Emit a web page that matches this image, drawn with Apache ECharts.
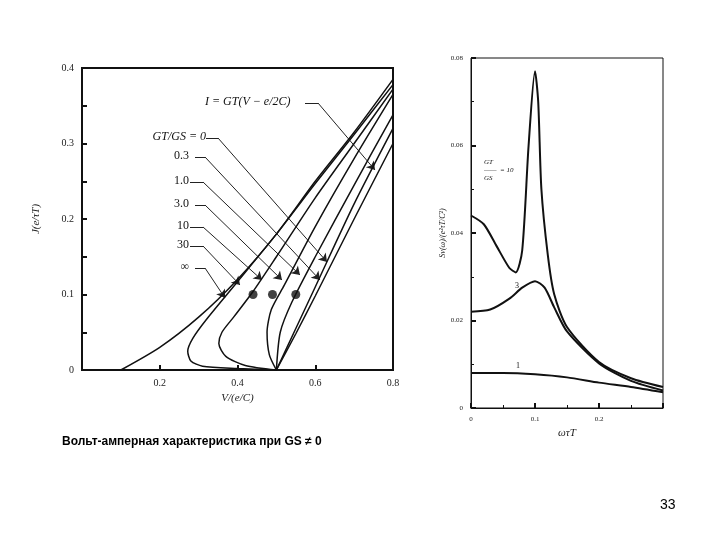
<!DOCTYPE html>
<html><head><meta charset="utf-8">
<script src="https://cdn.jsdelivr.net/npm/echarts@6/dist/echarts.min.js"></script>
<style>html,body{margin:0;background:#fff}#c{width:720px;height:540px}</style>
</head><body><div id="c"></div>
<script>
// left: I-V curves for different GT/GS
const ivInf = [[0.1,0],[0.2,0.03],[0.3,0.07],[0.4,0.12],[0.5,0.18],[0.6,0.25],[0.7,0.315],[0.8,0.385]]
const iv30 = [[0.5,0],[0.4,0.002],[0.31,0.005],[0.28,0.012],[0.272,0.025],[0.285,0.042],[0.32,0.067],[0.4,0.117],[0.5,0.18],[0.6,0.247],[0.7,0.312],[0.8,0.378]]
const iv10 = [[0.5,0],[0.42,0.006],[0.37,0.018],[0.352,0.035],[0.36,0.05],[0.39,0.07],[0.44,0.104],[0.5,0.15],[0.6,0.228],[0.7,0.3],[0.8,0.372]]
const iv3 = [[0.5,0],[0.482,0.02],[0.476,0.05],[0.487,0.08],[0.52,0.112],[0.6,0.19],[0.7,0.28],[0.8,0.365]]
const iv1 = [[0.5,0],[0.51,0.05],[0.54,0.09],[0.6,0.15],[0.7,0.245],[0.8,0.338]]
const iv03 = [[0.5,0],[0.55,0.055],[0.6,0.11],[0.7,0.22],[0.8,0.32]]
const iv0 = [[0.5,0],[0.55,0.048],[0.6,0.098],[0.7,0.2],[0.8,0.3]]
const dots = [[0.44,0.1],[0.49,0.1],[0.55,0.1]]
// right: noise spectra
const sp10 = [[0,0.044],[0.02,0.042],[0.04,0.037],[0.06,0.032],[0.07,0.031],[0.08,0.036],[0.09,0.06],[0.1,0.077],[0.105,0.07],[0.11,0.05],[0.12,0.035],[0.13,0.026],[0.15,0.0185],[0.2,0.0105],[0.25,0.0068],[0.3,0.0048]]
const sp3 = [[0,0.022],[0.03,0.0225],[0.06,0.025],[0.08,0.0275],[0.1,0.029],[0.115,0.0275],[0.13,0.023],[0.15,0.0175],[0.2,0.0102],[0.25,0.0062],[0.3,0.004]]
const sp1 = [[0,0.008],[0.05,0.008],[0.1,0.0077],[0.15,0.007],[0.2,0.0058],[0.25,0.0048],[0.3,0.0036]]

// pixel -> data for left grid (annotation leaders only)
const L = {x0:82, x1:393, y0:370, y1:68}
const p2d = (px, py) => [(px - L.x0) * 0.8 / (L.x1 - L.x0), (L.y0 - py) * 0.4 / (L.y0 - L.y1)]
const leaderPx = [
  [[305,103],[318,103],[375,170]],
  [[206,138],[218,138],[327,262]],
  [[195,157],[205,157],[320,280]],
  [[190,182],[203,182],[300,275]],
  [[195,205],[205,205],[282,280]],
  [[190,227],[203,227],[262,280]],
  [[190,246],[203,246],[240,285]],
  [[195,268],[205,268],[225,298]],
]
const stubs = leaderPx.map(p => ({coords:[p2d(...p[0]), p2d(...p[1])]}))
const arrows = leaderPx.map(p => ({coords:[p2d(...p[1]), p2d(...p[2])]}))

const font = 'Liberation Serif'
const curve = (data, xi) => ({type:'line', xAxisIndex:xi, yAxisIndex:xi, data, smooth:0.25, showSymbol:false,
  lineStyle:{color:'#111', width:xi ? 2 : 1.5}, silent:true})
const axisBase = {axisLine:{show:true, onZero:false, lineStyle:{color:'#111', width:2}}, splitLine:{show:false},
  axisTick:{inside:true, lineStyle:{color:'#111', width:2}, length:5},
  axisLabel:{color:'#222', fontFamily:font, fontSize:10}, nameTextStyle:{color:'#222', fontFamily:font, fontSize:11, fontStyle:'italic'}}

const chart = echarts.init(document.getElementById('c'))
chart.setOption({
  animation:false,
  grid:[{left:82, top:68, width:311, height:302, show:true, borderColor:'#111', borderWidth:2},
        {left:471, top:58, width:192, height:350, show:true, borderColor:'#111', borderWidth:1}],
  xAxis:[
    {...axisBase, gridIndex:0, min:0, max:0.8, interval:0.2, name:'V/(e/C)', nameLocation:'middle', nameGap:14,
      axisLabel:{...axisBase.axisLabel, formatter:v => v === 0 ? '' : v}},
    {...axisBase, gridIndex:1, min:0, max:0.3, interval:0.1, name:'ωτT', nameLocation:'middle', nameGap:14,
      axisLine:{show:true, lineStyle:{color:'#111', width:1}}, minorTick:{show:true, splitNumber:2},
      axisLabel:{...axisBase.axisLabel, fontSize:7, formatter:v => v === 0.3 ? '' : v}},
  ],
  yAxis:[
    {...axisBase, gridIndex:0, min:0, max:0.4, interval:0.1, name:'J(e/τT)', nameLocation:'middle', nameGap:40,
      minorTick:{show:true, splitNumber:2, length:5, lineStyle:{color:'#111', width:2}}},
    {...axisBase, gridIndex:1, min:0, max:0.08, interval:0.02, name:'Sv(ω)/(e²τT/C²)', nameLocation:'middle', nameGap:24,
      axisLine:{show:true, lineStyle:{color:'#111', width:1}}, minorTick:{show:true, splitNumber:2},
      axisLabel:{...axisBase.axisLabel, fontSize:7}, nameTextStyle:{...axisBase.nameTextStyle, fontSize:8}},
  ],
  series:[
    curve(ivInf,0), curve(iv30,0), curve(iv10,0), curve(iv3,0), curve(iv1,0), curve(iv03,0), curve(iv0,0),
    {type:'scatter', data:dots, symbolSize:9, itemStyle:{color:'#111'}},
    {type:'lines', coordinateSystem:'cartesian2d', data:stubs, symbol:'none',
      lineStyle:{color:'#222', width:1, opacity:1}},
    {type:'lines', coordinateSystem:'cartesian2d', data:arrows, symbol:['none','arrow'], symbolSize:8,
      lineStyle:{color:'#222', width:1, opacity:1}},
    curve(sp10,1), curve(sp3,1), curve(sp1,1),
  ],
  graphic:[
    {type:'text', left:205, top:96, style:{text:'I = GT(V − e/2C)', font:'italic 12px '+font, fill:'#111'}},
    {type:'text', right:720-206, top:131, style:{text:'GT/GS = 0', font:'italic 12px '+font, fill:'#111'}},
    ...[['0.3',150],['1.0',175],['3.0',198],['10',220],['30',239],['∞',261]].map(([t,y]) =>
      ({type:'text', right:720-189, top:y, style:{text:t, font:'12px '+font, fill:'#111'}})),
    {type:'text', left:484, top:158, style:{text:'GT\n——  = 10\nGS', font:'italic 7px '+font, fill:'#111', lineHeight:8}},
    {type:'text', left:515, top:282, style:{text:'3', font:'8px '+font, fill:'#111'}},
    {type:'text', left:516, top:362, style:{text:'1', font:'8px '+font, fill:'#111'}},
    {type:'text', left:62, top:436, style:{text:'Вольт-амперная характеристика при GS ≠ 0', font:'bold 12px Liberation Sans', fill:'#000'}},
    {type:'text', left:660, top:498, style:{text:'33', font:'14px Liberation Sans', fill:'#000'}},
  ],
})
</script></body></html>
